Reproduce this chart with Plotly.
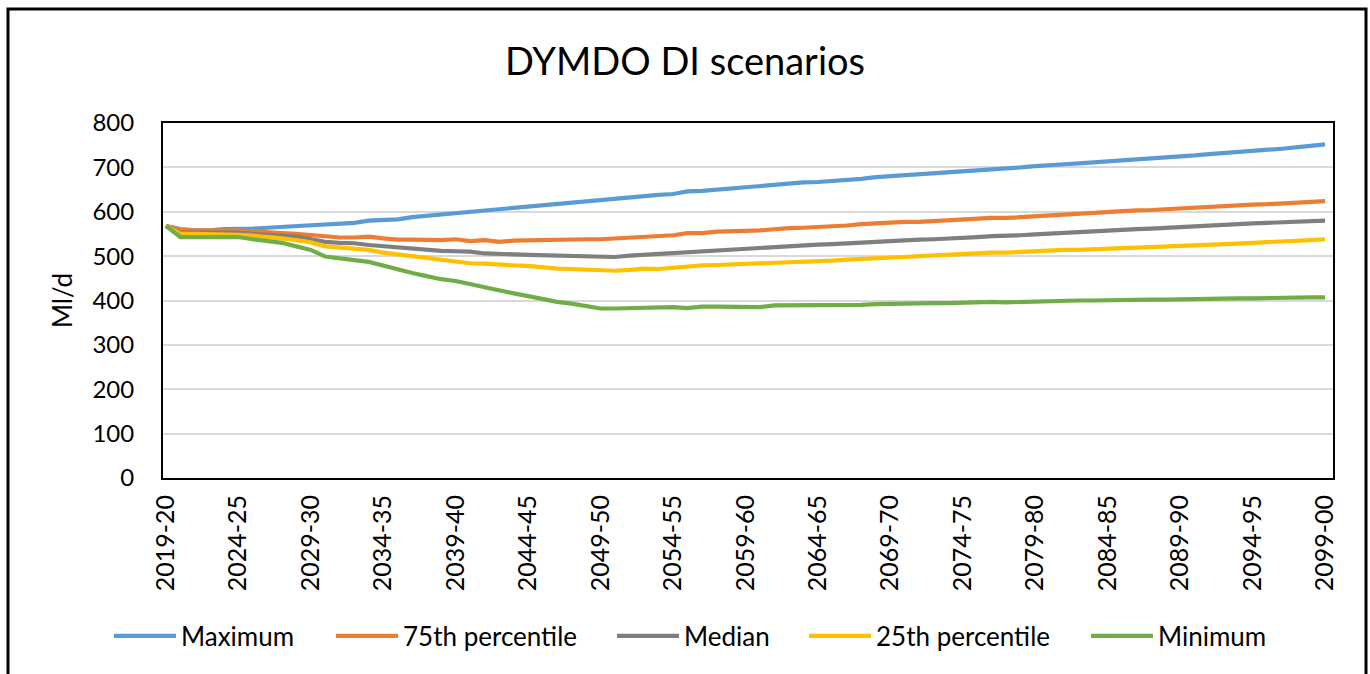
import plotly.graph_objects as go

years = list(range(2019, 2100))
categories = [f"{y}-{(y + 1) % 100:02d}" for y in years]
tick_labels = categories[::5]

maximum = [568, 561, 558, 558, 561, 561, 562, 564, 566, 568, 570, 570, 573, 575, 580, 582, 583, 588, 591, 595,
           598, 600, 604, 606, 610, 613, 615, 618, 622, 625, 627, 629, 633, 636, 638, 640, 646, 647, 650, 653,
           656, 657, 661, 664, 666, 667, 669, 671, 674, 678, 680, 683, 685, 687, 689, 690, 694, 696, 697, 700,
           703, 706, 707, 709, 711, 714, 716, 718, 720, 723, 725, 727, 730, 732, 734, 737, 740, 742, 745, 748, 752]
p75 = [568, 560, 558, 558, 559, 558, 556, 555, 552, 550, 547, 545, 542, 542, 544, 540, 537, 537, 536, 536,
       538, 534, 536, 532, 535, 536, 536, 536, 537, 538, 538, 540, 543, 545, 547, 547, 552, 552, 555, 557,
       557, 558, 561, 563, 564, 565, 567, 569, 572, 574, 575, 577, 577, 579, 579, 581, 585, 586, 586, 588,
       590, 593, 594, 596, 598, 600, 601, 603, 604, 606, 607, 609, 610, 612, 614, 616, 617, 619, 621, 623, 624]
median = [568, 553, 553, 553, 553, 553, 550, 549, 546, 544, 538, 532, 530, 529, 525, 522, 519, 517, 515, 512,
          511, 510, 506, 504, 504, 503, 502, 501, 501, 500, 498, 498, 501, 503, 504, 506, 510, 511, 514, 515,
          517, 518, 520, 523, 525, 526, 527, 529, 530, 532, 534, 536, 537, 538, 539, 540, 543, 545, 545, 547,
          549, 551, 552, 554, 556, 558, 559, 561, 562, 564, 566, 567, 569, 570, 572, 574, 575, 576, 577, 579, 580]
p25 = [568, 550, 550, 550, 550, 548, 546, 544, 540, 536, 531, 522, 519, 517, 514, 508, 504, 501, 497, 492,
       489, 484, 483, 480, 479, 478, 474, 472, 471, 469, 467, 467, 469, 472, 471, 474, 478, 479, 480, 481,
       482, 483, 485, 487, 488, 489, 490, 492, 493, 495, 496, 498, 500, 502, 503, 504, 507, 508, 508, 510,
       512, 513, 514, 514, 516, 517, 518, 519, 520, 522, 523, 524, 526, 527, 528, 530, 531, 533, 535, 536, 538]
minimum = [568, 543, 543, 543, 543, 543, 538, 534, 530, 522, 514, 499, 496, 491, 487, 478, 470, 462, 455, 448,
           444, 437, 430, 421, 416, 410, 403, 397, 393, 388, 382, 382, 383, 384, 383, 385, 383, 386, 386, 386,
           387, 385, 389, 389, 389, 389, 389, 390, 390, 392, 393, 394, 394, 394, 394, 395, 397, 397, 396, 397,
           399, 399, 399, 400, 400, 401, 401, 401, 402, 402, 403, 404, 404, 404, 405, 405, 406, 406, 406, 407, 407]

series_names = ["Maximum", "75th percentile", "Median", "25th percentile", "Minimum"]
series_values = [maximum, p75, median, p25, minimum]
series_colors = ["#5B9BD5", "#ED7D31", "#7F7F7F", "#FFC000", "#70AD47"]

W, H = 1370, 674
FONT = "Lato, 'Open Sans', sans-serif"
legend_x = [114, 336, 617, 809, 1091]   # left edge of each legend sample (px)

fig = go.Figure()
layout_legends = {}
for k, (name, vals, color) in enumerate(zip(series_names, series_values, series_colors)):
    lg = "legend" if k == 0 else f"legend{k + 1}"
    fig.add_trace(go.Scatter(
        x=list(range(len(categories))), y=vals, name=name, mode="lines",
        line=dict(color=color, width=4.2), legend=lg,
    ))
    layout_legends[lg] = dict(
        orientation="h", x=(legend_x[k] - 5) / W, xref="container", xanchor="left",
        y=1 - 636 / H, yref="container", yanchor="middle",
        font=dict(size=26, family=FONT, color="black"),
        itemwidth=62, bgcolor="rgba(0,0,0,0)",
    )

fig.update_layout(
    width=W, height=H,
    margin=dict(l=163, r=37, t=123, b=196),
    paper_bgcolor="white", plot_bgcolor="white",
    font=dict(family=FONT, color="black"),
    title=dict(text="DYMDO DI scenarios", x=0.5, xref="container", xanchor="center",
               y=1 - 62 / H, yref="container", yanchor="middle",
               font=dict(size=38, family=FONT, color="black")),
    showlegend=True,
    **layout_legends,
)

fig.update_xaxes(
    range=[-0.2, 80.55],
    tickmode="array", tickvals=list(range(0, len(categories), 5)), ticktext=tick_labels,
    tickangle=-90, tickfont=dict(size=25, family=FONT, color="black"),
    ticks="", ticklabelstandoff=5,
    showgrid=False, zeroline=False,
    showline=True, linecolor="black", linewidth=2, mirror=True,
)
fig.update_yaxes(
    range=[0, 800], tickmode="linear", tick0=0, dtick=100,
    tickfont=dict(size=24, family=FONT, color="black"),
    ticks="", ticklabelstandoff=22,
    showgrid=True, gridcolor="#D9D9D9", gridwidth=1.5,
    zeroline=False,
    showline=True, linecolor="black", linewidth=2, mirror=True,
    title=dict(text="Ml/d", font=dict(size=26, family=FONT, color="black"), standoff=12),
)

# outer chart border
fig.add_shape(type="rect", xref="paper", yref="paper",
              x0=(8 - 163) / 1170, x1=(1366 - 163) / 1170,
              y0=(478 - 700) / 355, y1=(478 - 9) / 355,
              line=dict(color="black", width=3), fillcolor="rgba(0,0,0,0)", layer="below")

fig.write_html("out.html", config={"displayModeBar": False},
               post_script="document.body.style.margin='0';document.body.style.overflow='hidden';")
